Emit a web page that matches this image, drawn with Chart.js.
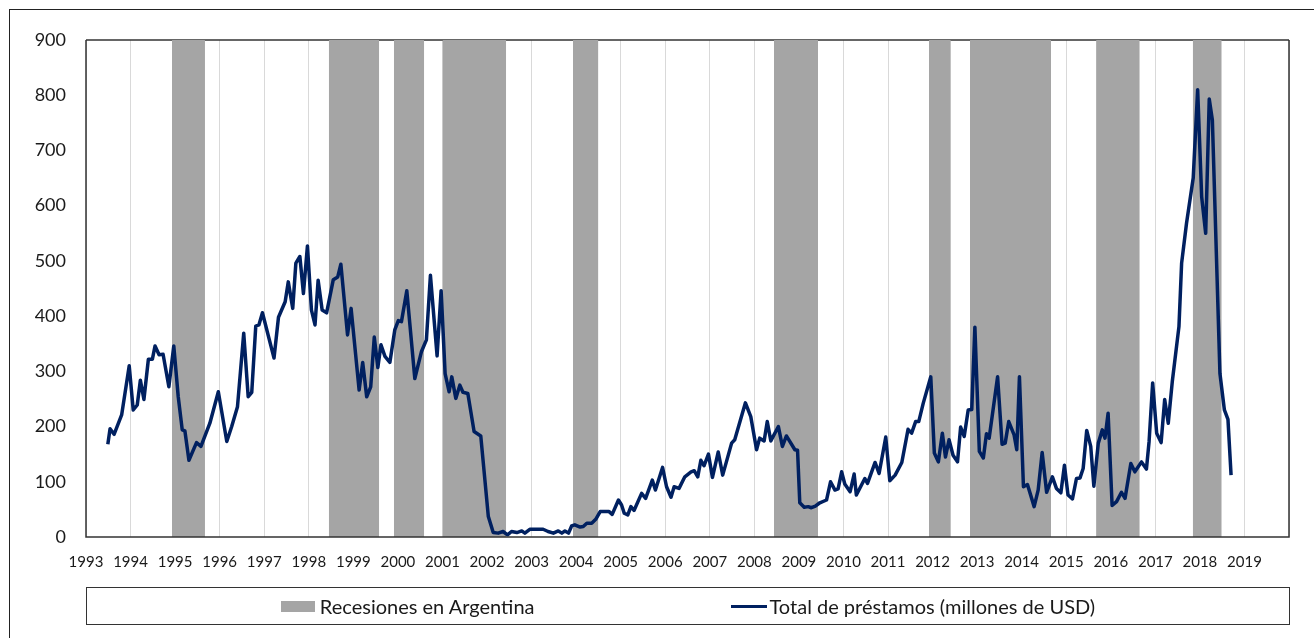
<!DOCTYPE html>
<html lang="es">
<head>
<meta charset="utf-8">
<title>Préstamos y recesiones en Argentina</title>
<script src="https://cdn.jsdelivr.net/npm/chart.js@4.4.1/dist/chart.umd.min.js"></script>
<style>
  body { margin: 0; background: #fff; font-family: Lato, "Open Sans", sans-serif; }
  #marco { position: absolute; left: 9px; top: 9px; width: 1400px; height: 700px;
           border-left: 1.5px solid #222; border-top: 1.5px solid #222; }
  #grafico { position: absolute; left: 0; top: 0; }
  #leyenda { position: absolute; left: 86px; top: 587px; width: 1202px; height: 36px;
             border: 1.5px solid #333; display: flex; justify-content: center;
             align-items: center; gap: 196px; font-size: 20px; color: #1a1a1a; }
  .item { display: flex; align-items: center; white-space: nowrap; }
  .caja { display: inline-block; width: 34px; height: 11px; margin-right: 5px; }
  .linea { display: inline-block; width: 36px; height: 3px; margin-right: 3px; }
</style>
</head>
<body>
<div id="marco"></div>
<canvas id="grafico" width="1314" height="638"></canvas>
<div id="leyenda"></div>
<script>
// fecha en años decimales, valor en millones de USD
const fechas = [
  1993.49, 1993.54, 1993.63, 1993.80, 1993.97, 1994.06, 1994.15, 1994.22, 1994.30, 1994.40,
  1994.49, 1994.55, 1994.64, 1994.73, 1994.86, 1994.97, 1995.07, 1995.16, 1995.22, 1995.31,
  1995.48, 1995.58, 1995.78, 1995.97, 1996.16, 1996.27, 1996.40, 1996.54, 1996.64, 1996.72,
  1996.81, 1996.88, 1996.96, 1997.22, 1997.32, 1997.47, 1997.54, 1997.64, 1997.71, 1997.80,
  1997.88, 1997.97, 1998.06, 1998.14, 1998.21, 1998.30, 1998.40, 1998.55, 1998.65, 1998.72,
  1998.87, 1998.95, 1999.13, 1999.21, 1999.30, 1999.39, 1999.47, 1999.55, 1999.62, 1999.71,
  1999.82, 1999.93, 2000.01, 2000.08, 2000.20, 2000.38, 2000.53, 2000.64, 2000.73, 2000.88,
  2000.97, 2001.06, 2001.15, 2001.21, 2001.30, 2001.39, 2001.46, 2001.57, 2001.71, 2001.86,
  2002.03, 2002.14, 2002.25, 2002.36, 2002.46, 2002.55, 2002.67, 2002.78, 2002.85, 2002.96,
  2003.15, 2003.26, 2003.37, 2003.49, 2003.60, 2003.68, 2003.75, 2003.83, 2003.90, 2003.97,
  2004.09, 2004.16, 2004.24, 2004.35, 2004.44, 2004.54, 2004.63, 2004.74, 2004.81, 2004.95,
  2005.02, 2005.08, 2005.16, 2005.23, 2005.30, 2005.47, 2005.56, 2005.71, 2005.78, 2005.94,
  2006.03, 2006.13, 2006.20, 2006.31, 2006.44, 2006.58, 2006.65, 2006.73, 2006.80, 2006.87,
  2006.97, 2007.06, 2007.19, 2007.29, 2007.49, 2007.56, 2007.80, 2007.92, 2008.05, 2008.12,
  2008.22, 2008.29, 2008.37, 2008.54, 2008.63, 2008.72, 2008.91, 2008.97, 2009.02, 2009.12,
  2009.21, 2009.28, 2009.37, 2009.47, 2009.62, 2009.71, 2009.81, 2009.88, 2009.96, 2010.03,
  2010.15, 2010.24, 2010.29, 2010.48, 2010.54, 2010.71, 2010.80, 2010.95, 2011.04, 2011.16,
  2011.31, 2011.45, 2011.53, 2011.62, 2011.69, 2011.79, 2011.96, 2012.04, 2012.13, 2012.22,
  2012.29, 2012.37, 2012.46, 2012.56, 2012.63, 2012.71, 2012.80, 2012.88, 2012.95, 2013.05,
  2013.14, 2013.21, 2013.27, 2013.46, 2013.56, 2013.63, 2013.71, 2013.83, 2013.89, 2013.95,
  2014.04, 2014.13, 2014.28, 2014.37, 2014.46, 2014.56, 2014.69, 2014.78, 2014.88, 2014.96,
  2015.04, 2015.14, 2015.23, 2015.31, 2015.38, 2015.46, 2015.55, 2015.62, 2015.72, 2015.81,
  2015.87, 2015.94, 2016.03, 2016.13, 2016.24, 2016.32, 2016.45, 2016.54, 2016.69, 2016.80,
  2016.86, 2016.94, 2017.03, 2017.13, 2017.21, 2017.29, 2017.38, 2017.53, 2017.59, 2017.70,
  2017.85, 2017.95, 2018.04, 2018.13, 2018.21, 2018.28, 2018.45, 2018.55, 2018.63, 2018.70
];
const prestamos = [
  168, 196, 186, 221, 310, 230, 239, 284, 249, 322,
  322, 346, 330, 331, 272, 346, 254, 194, 192, 139,
  171, 164, 206, 263, 173, 200, 236, 369, 254, 262,
  382, 384, 406, 324, 398, 426, 462, 414, 496, 508,
  441, 527, 411, 384, 465, 411, 406, 466, 471, 494,
  366, 414, 266, 316, 254, 272, 362, 307, 348, 327,
  316, 375, 392, 390, 446, 287, 336, 357, 474, 328,
  446, 296, 263, 290, 251, 275, 262, 260, 191, 183,
  37, 8, 7, 10, 4, 10, 8, 11, 7, 14,
  14, 14, 10, 7, 11, 7, 11, 7, 20, 22,
  18, 19, 25, 25, 32, 46, 46, 46, 41, 67,
  58, 43, 40, 55, 48, 79, 70, 103, 85, 126,
  91, 72, 91, 88, 109, 118, 120, 109, 139, 129,
  150, 108, 154, 112, 170, 176, 243, 218, 158, 179,
  174, 209, 174, 200, 164, 183, 158, 157, 62, 54,
  55, 53, 56, 62, 67, 100, 85, 87, 118, 96,
  82, 114, 76, 106, 97, 135, 115, 181, 102, 112,
  135, 195, 188, 209, 209, 242, 290, 152, 136, 188,
  145, 176, 148, 136, 199, 182, 230, 231, 380, 155,
  143, 187, 179, 290, 168, 170, 209, 185, 158, 290,
  91, 95, 55, 85, 153, 81, 109, 88, 80, 130,
  76, 69, 106, 107, 124, 193, 164, 92, 170, 194,
  179, 224, 57, 64, 81, 70, 133, 118, 136, 123,
  173, 279, 188, 171, 249, 206, 281, 381, 496, 568,
  650, 810, 616, 550, 793, 755, 296, 230, 213, 112
];

// periodos de recesión (inicio y fin en años decimales)
const recesionInicio = [1994.93, 1998.45, 1999.91, 2001.00, 2003.93, 2008.44, 2011.92, 2012.84, 2015.67, 2017.84];
const recesionFin    = [1995.67, 1999.58, 2000.59, 2002.43, 2004.50, 2009.43, 2012.41, 2014.66, 2016.65, 2018.49];

const anioMin = 1993;
const anioMax = 2020;
const yMax = 900;

const puntosPrestamos = fechas.map((f, i) => ({ x: f, y: prestamos[i] }));

const puntosRecesion = [];
recesionInicio.forEach((ini, i) => {
    puntosRecesion.push({ x: ini, y: yMax });
    puntosRecesion.push({ x: recesionFin[i], y: yMax });
    puntosRecesion.push({ x: recesionFin[i], y: null });
});

// bordes del área de trazado (el superior queda bajo las franjas grises)
const marcoPlot = {
    id: 'marcoPlot',
    beforeDatasetsDraw(chart) {
        const { ctx, chartArea: a } = chart;
        ctx.save();
        ctx.strokeStyle = '#333';
        ctx.lineWidth = 1.5;
        ctx.beginPath();
        ctx.moveTo(a.left, a.top);
        ctx.lineTo(a.right, a.top);
        ctx.stroke();
        ctx.restore();
    },
    afterDatasetsDraw(chart) {
        const { ctx, chartArea: a } = chart;
        ctx.save();
        ctx.strokeStyle = '#333';
        ctx.lineWidth = 1.5;
        ctx.beginPath();
        ctx.moveTo(a.left, a.top);
        ctx.lineTo(a.left, a.bottom);
        ctx.lineTo(a.right, a.bottom);
        ctx.lineTo(a.right, a.top);
        ctx.stroke();
        ctx.restore();
    }
};

const ctx = document.getElementById('grafico').getContext('2d');

const chart = new Chart(ctx, {
    type: 'line',
    data: {
        datasets: [{
                label: 'Recesiones en Argentina',
                data: puntosRecesion,
                backgroundColor: '#a5a5a5',
                borderWidth: 0,
                pointRadius: 0,
                fill: 'origin',
                spanGaps: false,
                order: 1
            },
            {
                label: 'Total de préstamos (millones de USD)',
                data: puntosPrestamos,
                borderColor: '#002060',
                backgroundColor: '#002060',
                borderWidth: 3.5,
                borderJoinStyle: 'round',
                pointRadius: 0,
                tension: 0,
                fill: false,
                order: 0
            }
        ]
    },
    options: {
        responsive: false,
        animation: false,
        layout: {
            padding: { left: 0, top: 40, right: 25, bottom: 0 }
        },
        plugins: {
            legend: { display: false },
            tooltip: { enabled: false }
        },
        scales: {
            x: {
                type: 'linear',
                min: anioMin,
                max: anioMax,
                afterFit: s => { s.height = 101; },
                border: { display: false },
                grid: { color: '#d9d9d9', lineWidth: 1, drawTicks: false },
                ticks: {
                    stepSize: 1,
                    padding: 16,
                    color: '#1a1a1a',
                    font: { family: 'Lato', size: 15 },
                    maxRotation: 0,
                    autoSkip: false,
                    callback: v => (v < anioMax ? String(v) : '')
                }
            },
            y: {
                min: 0,
                max: yMax,
                afterFit: s => { s.width = 86; },
                border: { display: false },
                grid: { display: false, drawTicks: false },
                ticks: {
                    stepSize: 100,
                    padding: 20,
                    color: '#1a1a1a',
                    font: { family: 'Lato', size: 18 }
                }
            }
        }
    },
    plugins: [marcoPlot]
});

// leyenda en HTML a partir de los datasets
const leyenda = document.getElementById('leyenda');
chart.data.datasets.forEach(ds => {
    const item = document.createElement('span');
    item.className = 'item';
    const muestra = document.createElement('span');
    if (ds.fill) {
        muestra.className = 'caja';
        muestra.style.background = ds.backgroundColor;
    } else {
        muestra.className = 'linea';
        muestra.style.background = ds.borderColor;
    }
    item.appendChild(muestra);
    item.appendChild(document.createTextNode(ds.label));
    leyenda.appendChild(item);
});
</script>
</body>
</html>
